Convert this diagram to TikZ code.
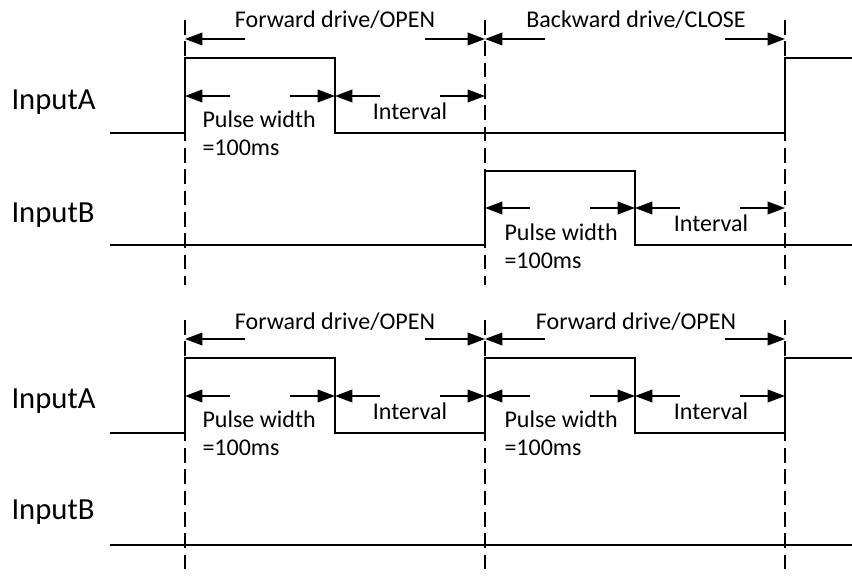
\documentclass[tikz,border=0pt]{standalone}
\usepackage{fontspec}
\setmainfont{Carlito}
\usetikzlibrary{arrows.meta}
\tikzset{every picture/.style={line width=0.75pt}}
\tikzset{
  sig/.style={line width=1.5pt},
  guide/.style={line width=1pt, dash pattern=on 11pt off 5pt},
  dimarr/.style={line width=1.2pt, -{Triangle[length=13pt,width=9.5pt]}},
  lbl/.style={inner sep=0.75pt, font=\fontsize{18}{21}\selectfont},
  signame/.style={anchor=west, inner sep=0.75pt, font=\fontsize{23}{27}\selectfont},
}

\begin{document}
\begin{tikzpicture}[x=0.75pt,y=0.75pt,yscale=-1,xscale=1]
\path[use as bounding box] (0,0) rectangle (852,575);

%Dashed guides
\draw[guide] (185,20) -- (185,285) ;
\draw[guide] (485,20) -- (485,285) ;
\draw[guide] (785,20) -- (785,285) ;
\draw[guide] (185,320) -- (185,575) ;
\draw[guide] (485,320) -- (485,575) ;
\draw[guide] (785,320) -- (785,575) ;

%%% upper diagram
%Waveform InputA
\draw[sig] (110,133) -- (185,133) -- (185,58) -- (335,58) -- (335,133) -- (785,133) -- (785,58) -- (852,58) ;
%Waveform InputB
\draw[sig] (110,245) -- (485,245) -- (485,171) -- (635,171) -- (635,245) -- (852,245) ;

%Arrow ends
\coordinate (ta1) at (185,39) ;
\coordinate (ta2) at (485,39) ;
\coordinate (ta3) at (785,39) ;
\coordinate (pa1) at (185,96) ;
\coordinate (pa2) at (335,96) ;
\coordinate (pa3) at (485,96) ;
\coordinate (pb1) at (485,208) ;
\coordinate (pb2) at (635,208) ;
\coordinate (pb3) at (785,208) ;

\draw[dimarr] (ta1) ++(60,0) -- (ta1) ;
\draw[dimarr] (ta2) ++(-60,0) -- (ta2) ;
\draw[dimarr] (ta2) ++(60,0) -- (ta2) ;
\draw[dimarr] (ta3) ++(-60,0) -- (ta3) ;
\draw[dimarr] (pa1) ++(45,0) -- (pa1) ;
\draw[dimarr] (pa2) ++(-45,0) -- (pa2) ;
\draw[dimarr] (pa2) ++(45,0) -- (pa2) ;
\draw[dimarr] (pa3) ++(-45,0) -- (pa3) ;
\draw[dimarr] (pb1) ++(45,0) -- (pb1) ;
\draw[dimarr] (pb2) ++(-45,0) -- (pb2) ;
\draw[dimarr] (pb2) ++(45,0) -- (pb2) ;
\draw[dimarr] (pb3) ++(-45,0) -- (pb3) ;

% Text Node
\node[lbl] (fwdtop) at (335,20) {Forward drive/OPEN} ;
% Text Node
\node[lbl] (bwdtop) at (636,20) {Backward drive/CLOSE} ;
% Text Node
\node[signame] (inAtop) at (10,102) {InputA} ;
% Text Node
\node[signame] (inBtop) at (10,215) {InputB} ;
% Text Node
\node[lbl, anchor=west] (pwAtop) at (201,119) {Pulse width} ;
% Text Node
\node[lbl, anchor=west] (msAtop) at (201,148) {=100ms} ;
% Text Node
\node[lbl] (ivAtop) at (410,111) {Interval} ;
% Text Node
\node[lbl, anchor=west] (pwBtop) at (503,232) {Pulse width} ;
% Text Node
\node[lbl, anchor=west] (msBtop) at (503,261) {=100ms} ;
% Text Node
\node[lbl] (ivBtop) at (711,223) {Interval} ;

%%% lower diagram
%Waveform InputA
\draw[sig] (110,433) -- (185,433) -- (185,358) -- (335,358) -- (335,433) -- (485,433) -- (485,358) -- (635,358) -- (635,433) -- (785,433) -- (785,358) -- (852,358) ;
%Waveform InputB
\draw[sig] (110,545) -- (852,545) ;

%Arrow ends
\coordinate (tc1) at (185,339) ;
\coordinate (tc2) at (485,339) ;
\coordinate (tc3) at (785,339) ;
\coordinate (pc1) at (185,396) ;
\coordinate (pc2) at (335,396) ;
\coordinate (pc3) at (485,396) ;
\coordinate (pc4) at (635,396) ;
\coordinate (pc5) at (785,396) ;

\draw[dimarr] (tc1) ++(60,0) -- (tc1) ;
\draw[dimarr] (tc2) ++(-60,0) -- (tc2) ;
\draw[dimarr] (tc2) ++(60,0) -- (tc2) ;
\draw[dimarr] (tc3) ++(-60,0) -- (tc3) ;
\draw[dimarr] (pc1) ++(45,0) -- (pc1) ;
\draw[dimarr] (pc2) ++(-45,0) -- (pc2) ;
\draw[dimarr] (pc2) ++(45,0) -- (pc2) ;
\draw[dimarr] (pc3) ++(-45,0) -- (pc3) ;
\draw[dimarr] (pc3) ++(45,0) -- (pc3) ;
\draw[dimarr] (pc4) ++(-45,0) -- (pc4) ;
\draw[dimarr] (pc4) ++(45,0) -- (pc4) ;
\draw[dimarr] (pc5) ++(-45,0) -- (pc5) ;

% Text Node
\node[lbl] (fwdbot1) at (335,322) {Forward drive/OPEN} ;
% Text Node
\node[lbl] (fwdbot2) at (636,322) {Forward drive/OPEN} ;
% Text Node
\node[signame] (inAbot) at (10,401) {InputA} ;
% Text Node
\node[signame] (inBbot) at (10,512) {InputB} ;
% Text Node
\node[lbl, anchor=west] (pwAbot1) at (201,419) {Pulse width} ;
% Text Node
\node[lbl, anchor=west] (msAbot1) at (201,448) {=100ms} ;
% Text Node
\node[lbl] (ivAbot1) at (410,411) {Interval} ;
% Text Node
\node[lbl, anchor=west] (pwAbot2) at (503,419) {Pulse width} ;
% Text Node
\node[lbl, anchor=west] (msAbot2) at (503,448) {=100ms} ;
% Text Node
\node[lbl] (ivAbot2) at (711,411) {Interval} ;

\end{tikzpicture}
\end{document}
